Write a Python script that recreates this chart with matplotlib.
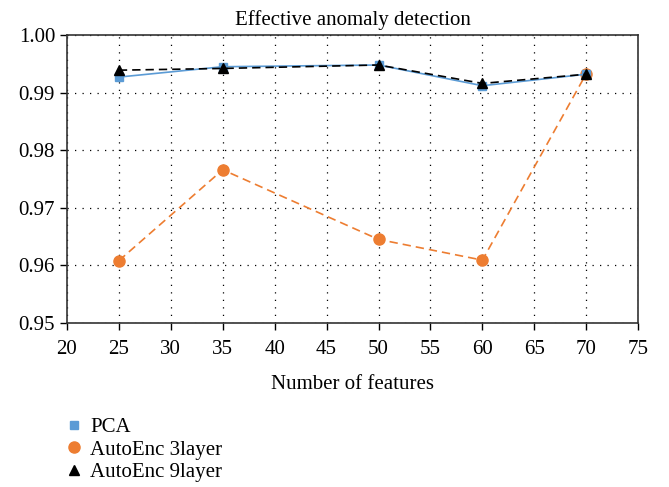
import numpy as np
import matplotlib
matplotlib.use('Agg')
import matplotlib.pyplot as plt

plt.rcParams['font.family'] = ['Liberation Serif', 'DejaVu Serif']

# Data
features = [25, 35, 50, 60, 70]
pca = [0.9927, 0.9945, 0.9948, 0.9912, 0.9932]
autoenc3 = [0.9608, 0.9766, 0.9645, 0.9609, 0.9933]
autoenc9 = [0.9939, 0.9942, 0.9948, 0.9916, 0.9932]

fig = plt.figure(figsize=(6.69, 4.87), dpi=100)
ax = fig.add_axes([0.100, 0.337, 0.854, 0.591])

ax.plot(features, pca, color='#5B9BD5', linestyle='-', linewidth=1.2,
        marker='s', markersize=6, label='PCA', zorder=3)
ax.plot(features, autoenc3, color='#ED7D31', linestyle=(0, (5, 3)), linewidth=1.2,
        marker='o', markersize=8, label='AutoEnc 3layer', zorder=2)
ax.plot(features, autoenc9, color='black', linestyle=(0, (5, 3)), linewidth=1.2,
        marker='^', markersize=7, label='AutoEnc 9layer', zorder=4)

fs = 15
ax.set_xlim(20, 75)
ax.set_ylim(0.95, 1.00)
ax.set_xticks(np.arange(20, 76, 5))
ax.set_yticks([0.95, 0.96, 0.97, 0.98, 0.99, 1.00])
ax.set_yticklabels(['0.95', '0.96', '0.97', '0.98', '0.99', '1.00'])
ax.grid(True, color='black', linestyle=(0, (1, 5)), linewidth=0.9)
ax.tick_params(labelsize=fs, direction='out', length=5, width=1)
ax.tick_params(axis='x', pad=7)
for s in ax.spines.values():
    s.set_color('#333333')
    s.set_linewidth(1.2)

ax.set_title('Effective anomaly detection', fontsize=fs, pad=7)
ax.set_xlabel('Number of features', fontsize=fs, labelpad=12)

handles, labels = ax.get_legend_handles_labels()
leg = fig.legend(handles, labels, loc='upper left', bbox_to_anchor=(0.099, 0.143),
                 frameon=False, fontsize=fs, handlelength=0.7, handletextpad=0.45,
                 labelspacing=0.15, borderaxespad=0, borderpad=0)
for h in leg.legend_handles:
    h.set_linestyle('')

fig.savefig('out.png', dpi=100)
